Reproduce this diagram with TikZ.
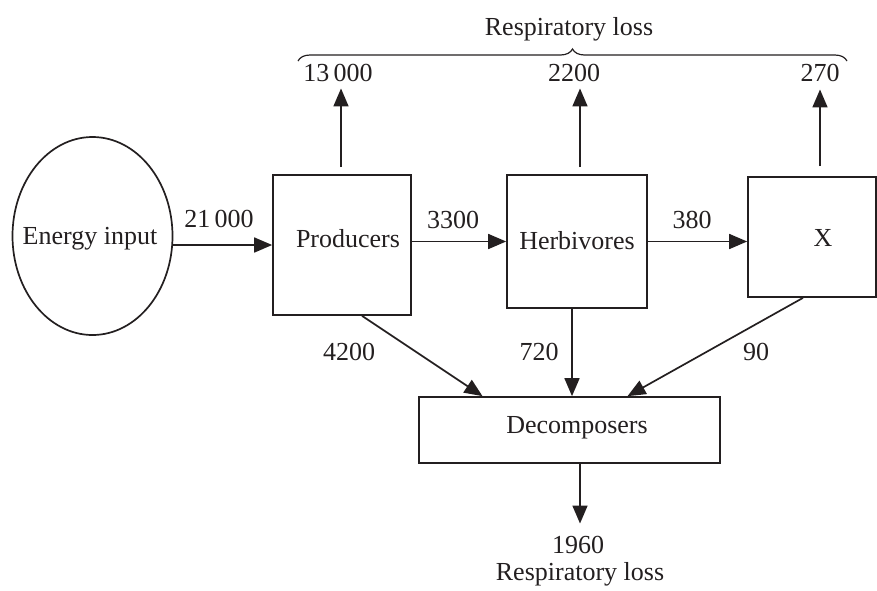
\documentclass[tikz,border=0pt]{standalone}
\usepackage{fontspec}
\setmainfont{Liberation Serif}
\usetikzlibrary{arrows.meta,decorations.pathreplacing,shapes.geometric}
\definecolor{ink}{HTML}{231F20}
\begin{document}
\begin{tikzpicture}[x=1pt,y=-1pt,
  every node/.style={font=\fontsize{26}{30}\selectfont, inner sep=0pt, text=ink},
  box/.style={draw=ink, line width=1.7pt, rectangle},
  arr/.style={draw=ink, line width=1.7pt, -{Triangle[length=18pt,width=15pt]}},
  num/.style={anchor=base}]
\useasboundingbox (0,0) rectangle (877,590);

% main nodes
\node[draw=ink, ellipse, line width=1.7pt, minimum width=160pt, minimum height=198pt, label={[xshift=-2.5pt,yshift=-3pt]center:Energy input}] (e) at (92.5,236) {};
\node[box, minimum width=138pt, minimum height=140pt, label={[xshift=6pt,yshift=6pt]center:Producers}] (p) at (342,245) {};
\node[box, minimum width=140pt, minimum height=133pt, label={[yshift=1pt]center:Herbivores}] (h) at (577,241.5) {};
\node[box, minimum width=128pt, minimum height=120pt, label={[xshift=11pt,yshift=-1pt]center:X}] (x) at (812,237) {};
\node[box, minimum width=301pt, minimum height=66pt, label={[xshift=7.5pt,yshift=2pt]center:Decomposers}] (d) at (569.5,430) {};

% labels
\node[num] (n21) at (219,227) {21\,000};
\node[num] (n3300) at (453,228) {3300};
\node[num] (n380) at (692,228) {380};
\node[num] (n4200) at (349,360) {4200};
\node[num] (n720) at (539,360) {720};
\node[num] (n90) at (756,360) {90};
\node[num] (r1) at (338,81) {13\,000};
\node[num] (r2) at (574,81) {2200};
\node[num] (r3) at (820,81) {270};
\node[num] (rl) at (569,35) {Respiratory loss};
\node[num] (n1960) at (578,553) {1960};
\node[num] (rl2) at (580,580) {Respiratory loss};

% brace
\draw[draw=ink, line width=1.2pt, decorate, decoration={brace, amplitude=12pt}] (298,61) -- (847,61);

% horizontal flow
\draw[arr] (e.east |- p.west) -- (p.west);
\draw[arr] (p.east |- h.west) -- (h.west);
\draw[arr] (h.east) -- (h.east -| x.west);

% respiratory losses
\draw[arr, shorten <=7pt, shorten >=7pt] ([xshift=-1pt]p.north) -- ([xshift=-1pt]p.north |- r1.south);
\draw[arr, shorten <=7pt, shorten >=7pt] ([xshift=3pt]h.north) -- ([xshift=3pt]h.north |- r2.south);
\draw[arr, shorten <=10pt, shorten >=8pt] ([xshift=8pt]x.north) -- ([xshift=8pt]x.north |- r3.south);

% to decomposers
\draw[arr] ([xshift=20pt]p.south) -- ([xshift=-87pt]d.north);
\draw[arr] ([xshift=-5pt]h.south) -- ([xshift=-5pt]h.south |- d.north);
\draw[arr] ([xshift=-9pt]x.south) -- ([xshift=58pt]d.north);
\draw[arr, shorten >=12pt] ([xshift=10.5pt]d.south) -- ([xshift=10.5pt]d.south |- n1960.north);
\end{tikzpicture}
\end{document}
